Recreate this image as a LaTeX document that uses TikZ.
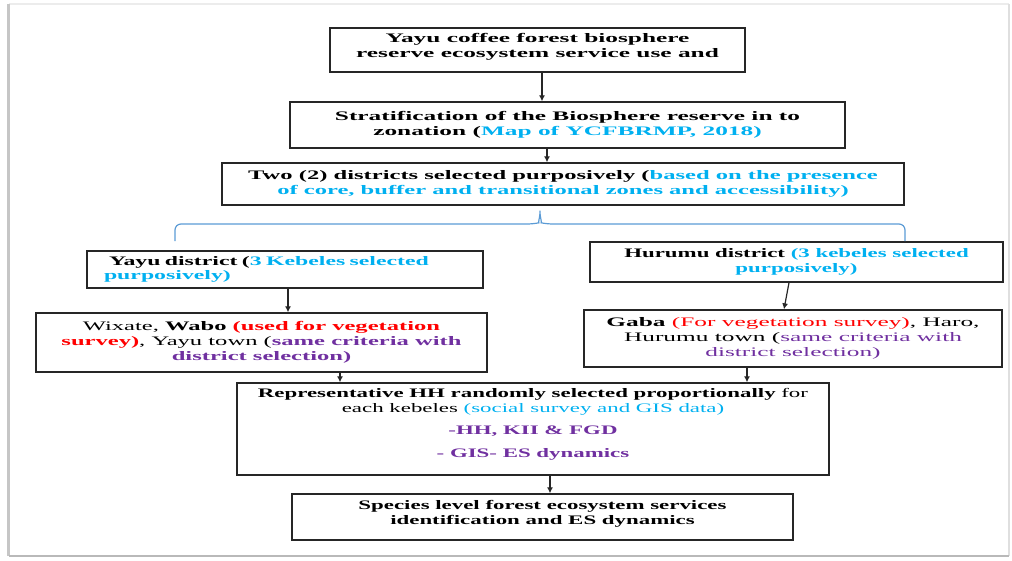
\documentclass[tikz,border=0pt]{standalone}
\usepackage{fontspec}
\setmainfont[FakeStretch=1.95]{Liberation Serif}
\newfontfamily\fnarrow[FakeStretch=1.76]{Liberation Serif}
\newfontfamily\fmid[FakeStretch=1.83]{Liberation Serif}
\newfontfamily\fnear[FakeStretch=1.89]{Liberation Serif}
\usetikzlibrary{arrows.meta}
\definecolor{wblue}{HTML}{00B0F0}
\definecolor{wred}{HTML}{FF0000}
\definecolor{wpurp}{HTML}{7030A0}
\definecolor{brc}{HTML}{5B9BD5}
\newcommand\spl[1]{#1}
\tikzset{
  bx/.style={draw=black!85, line width=1.3pt, inner sep=0pt, align=center,
    font=\fontsize{13}{15}\selectfont},
  fN/.style={font=\fnarrow\fontsize{13}{15}\selectfont},
  fM/.style={font=\fmid\fontsize{13}{15}\selectfont},
  fR/.style={font=\fnear\fontsize{13}{15}\selectfont},
  arr/.style={draw=black!85, line width=1.2pt, -{Latex[length=6pt,width=6pt]}},
  brace/.style={draw=brc, line width=1.2pt, rounded corners=6pt},
}
\begin{document}
\begin{tikzpicture}[x=1pt,y=-1pt]
\useasboundingbox (0,0) rectangle (1012,560);
% frame
\draw[gray!15, line width=1.5pt] (9,4) -- (1009,4);
\draw[gray!25, line width=1.5pt] (1009,4) -- (1009,556);
\draw[gray!45, line width=2.5pt] (8.5,4) -- (8.5,556);
\draw[gray!55, line width=2.5pt] (8.5,556) -- (1009,556);

\node[bx, minimum width=415, minimum height=44] (b1) at (537.5,50)
  {\textbf{Yayu coffee forest biosphere}\\ \textbf{reserve ecosystem service use and}\\[-6pt]\mbox{}};
\node[bx, minimum width=555, minimum height=46] (b2) at (567.5,125)
  {\textbf{Stratification of the Biosphere reserve in to}\\
   \textbf{zonation (}{\color{wblue}\textbf{Map of YCFBRMP, 2018)}}};
\node[bx, fR, minimum width=682, minimum height=42] (b3) at (563,184)
  {\textbf{Two (2) districts selected purposively (}{\color{wblue}\textbf{based on the presence}}\\
   {\color{wblue}\textbf{of core, buffer and transitional zones and accessibility)}}};
\node[bx, fM, minimum width=396, minimum height=37, text width=362, align=left, inner xsep=17pt] (ya) at (285,269.5)
  {\hspace{5pt}\textbf{\spl{Yayu} district (}{\color{wblue}\textbf{3 \spl{Kebeles}  selected}}\\[-1pt]
   {\color{wblue}\textbf{purposively)}}};
\node[bx, fN, minimum width=413, minimum height=40] (hu) at (796.5,262)
  {\textbf{Hurumu district }{\color{wblue}\textbf{(3 \spl{kebeles} selected}}\\
   {\color{wblue}\textbf{purposively)}}};
\node[bx, fR, minimum width=451, minimum height=59] (wi) at (261.5,342.5)
  {\spl{Wixate}, \textbf{\spl{Wabo}} {\color{wred}\textbf{(used for vegetation}}\\
   {\color{wred}\textbf{survey)}}, Yayu town ({\color{wpurp}\textbf{same criteria with}}\\
   {\color{wpurp}\textbf{district selection)}}};
\node[bx, minimum width=418, minimum height=57] (ga) at (793,338.5)
  {\textbf{\spl{Gaba}} {\color{wred}(For vegetation survey)}, \spl{Haro},\\
   \spl{Hurumu} town ({\color{wpurp}same criteria with}\\
   {\color{wpurp}district selection)}};
\node[bx, fN, minimum width=592, minimum height=92] (rp) at (533,429)
  {\textbf{Representative HH randomly selected proportionally} for\\
   each kebeles {\color{wblue}(social survey and GIS data)}\\[7pt]
   {\color{wpurp}\textbf{-HH, KII \& FGD}}\\[8pt]
   {\color{wpurp}\textbf{- GIS- ES dynamics}}\\[-3pt]\mbox{}};
\node[bx, fN, minimum width=501, minimum height=46] (sp) at (542.5,517)
  {\textbf{Species level forest ecosystem services}\\
   \textbf{identification and ES dynamics}\\[-6pt]\mbox{}};

% connectors
\draw[arr] (b1.south -| 542,0) -- (b2.north -| 542,0);
\draw[arr] (b2.south -| 547,0) -- (b3.north -| 547,0);
\coordinate (peak) at (540,207);
\coordinate (bl) at (175,241);
\coordinate (br) at (905,241);
\draw[brace] (bl) -- (175,224) -- (533,224)
  .. controls (538,223) and (540,216) .. (peak)
  .. controls (540,216) and (542,223) .. (547,224) -- (905,224) -- (br);
\draw[arr] (ya.south -| 288,0) -- (wi.north -| 288,0);
\draw[arr] (hu.south -| 789,0) -- (ga.north -| 784,0);
\draw[arr] (wi.south -| 340,0) -- (rp.north -| 340,0);
\draw[arr] (ga.south -| 747,0) -- (rp.north -| 747,0);
\draw[arr] (rp.south -| 550,0) -- (sp.north -| 550,0);
\end{tikzpicture}
\end{document}
